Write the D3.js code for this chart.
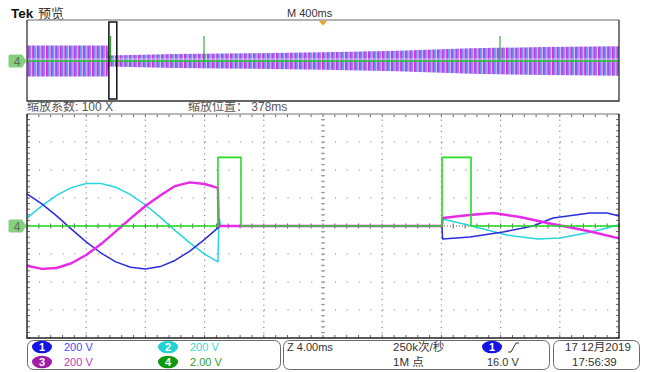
<!DOCTYPE html>
<html>
<head>
<meta charset="utf-8">
<script src="https://cdn.jsdelivr.net/npm/d3@7"></script>
<style>
  body { margin: 0; background: #fff; }
  svg { display: block; font-family: "Liberation Sans", "Noto Sans CJK SC", sans-serif; }
</style>
</head>
<body>
<div id="scope"></div>
<script>
// ---- channel data, main (zoomed) window: time in ms, values in volts
let ch1T = [0, 1, 2, 3, 4, 5, 6, 7, 8, 9, 10, 11, 12, 13, 13.1, 28.04, 28.08, 29.93, 32.16, 34.19, 35.54, 38.04, 39.19, 40];
let ch1V = [230, 158, 72, -22, -113, -193, -256, -295, -307, -290, -246, -179, -96, -4, 0, 0, -93, -79, -43, 0, 57, 93, 93, 71];

let ch2T = [0, 1, 2, 3, 4, 5, 6, 7, 8, 9, 10, 11, 12, 12.9, 12.97, 13.1, 28.04, 28.08, 29.5, 31.1, 32.4, 34.5, 36.0, 37.8, 39.2, 40];
let ch2V = [56, 144, 219, 274, 303, 304, 277, 224, 150, 63, -31, -121, -201, -256, 57, 0, 0, 50, 14, -29, -64, -93, -86, -50, -14, 10];

let ch3T = [0, 1, 2, 3, 4, 5, 6, 7, 8, 9, 10, 11, 12, 12.9, 12.95, 28.04, 28.08, 29.9, 31.5, 33.3, 35.5, 36.9, 38.2, 40];
let ch3V = [-284, -306, -300, -266, -207, -129, -39, 54, 143, 218, 285, 312, 300, 272, 0, 0, 57, 79, 93, 64, 14, -14, -43, -88];

let ch4T = [0, 12.9, 12.9, 14.46, 14.46, 28.04, 28.04, 30.0, 30.0, 40];
let ch4V = [0, 0, 4.9, 4.9, 0, 0, 4.9, 4.9, 0, 0];

// ---- overview (record) window: time in ms, envelope amplitude in volts
let ovT = [0, 545, 548, 1000, 1500, 2000, 2500, 3000, 3500, 4000];
let ovAmp = [310, 310, 110, 140, 155, 175, 205, 255, 280, 295];
let ovSpikeT = [565, 1196, 3196];
let ovSpikeV = [5, 5, 5];
let zoomStart = 560, zoomWidth = 40, triggerT = 2000;

// ---- labels
let chScales = ["200 V", "200 V", "200 V", "2.00 V"];
let chColors = ["#2b2be0", "#27d6dc", "#e829e8", "#22dd22"];
let chBadge = ["#1414e6", "#22d2d6", "#a01ea6", "#0e980e"];
let chLabelColor = ["#4a4af5", "#38d8dc", "#b83ab8", "#2ca02c"];

let dim = { width: 646, height: 372 };
let plot = { left: 27, right: 619, top: 114, bottom: 338 };
let ov = { top: 20, bottom: 101 };

let svg = d3.select("#scope").append("svg")
    .attr("width", dim.width)
    .attr("height", dim.height);

// striped fill for the compressed record view
let defs = svg.append("defs");
let pat = defs.append("pattern")
    .attr("id", "band")
    .attr("patternUnits", "userSpaceOnUse")
    .attr("width", 4.6).attr("height", 7);
pat.append("rect").attr("width", 4.6).attr("height", 7).attr("fill", "#f4ecff");
pat.append("rect").attr("x", 0).attr("width", 1.3).attr("height", 7).attr("fill", "#e02ae6");
pat.append("rect").attr("x", 1.3).attr("width", 1.1).attr("height", 7).attr("fill", "#3232e8");
pat.append("rect").attr("x", 2.4).attr("width", 0.7).attr("height", 7).attr("fill", "#30d8e8");
pat.append("rect").attr("x", 3.1).attr("width", 0.8).attr("height", 7).attr("fill", "#b040e0");

// ---- scales
let x = d3.scaleLinear().domain([0, 40]).range([plot.left, plot.right]);
let yDiv = d3.scaleLinear().domain([-4, 4]).range([plot.bottom, plot.top]);
let yV = d3.scaleLinear().domain([-800, 800]).range([plot.bottom, plot.top]);
let yG = d3.scaleLinear().domain([-8, 8]).range([plot.bottom, plot.top]);

let xOv = d3.scaleLinear().domain([0, 4000]).range([plot.left, plot.right]);
let yOv = d3.scaleLinear().domain([-800, 800]).range([ov.bottom, ov.top + 1]);
let yOvG = d3.scaleLinear().domain([-8, 8]).range([ov.bottom, ov.top + 1]);

// ---- header
svg.append("text").attr("x", 11).attr("y", 18)
    .style("font-weight", "bold").style("font-size", "13.5px").attr("fill", "#111")
    .text("Tek");
svg.append("text").attr("x", 38).attr("y", 18)
    .style("font-family", "Noto Sans CJK SC").style("font-size", "13px").attr("fill", "#333")
    .text("预览");
svg.append("text").attr("x", 287).attr("y", 17)
    .style("font-size", "11px").attr("fill", "#333")
    .text("M 400ms");

// ---- overview
let ovG = svg.append("g").attr("class", "overview");
let band = d3.area()
    .x((d, i) => xOv(ovT[i]))
    .y0(d => yOv(-d))
    .y1(d => yOv(d));
ovG.append("path").datum(ovAmp).attr("d", band).attr("fill", "url(#band)");
ovG.append("line")
    .attr("x1", xOv(0)).attr("x2", xOv(4000))
    .attr("y1", yOvG(0) - 2).attr("y2", yOvG(0) - 2)
    .attr("stroke", "#fff").attr("stroke-width", 1).attr("stroke-opacity", 0.6);
ovG.append("line")
    .attr("x1", xOv(0)).attr("x2", xOv(4000))
    .attr("y1", yOvG(0)).attr("y2", yOvG(0))
    .attr("stroke", "#22cc22").attr("stroke-width", 1.6);
ovG.selectAll("line.spike").data(ovSpikeT).enter().append("line")
    .attr("class", "spike")
    .attr("x1", d => xOv(d)).attr("x2", d => xOv(d))
    .attr("y1", yOvG(0)).attr("y2", (d, i) => yOvG(ovSpikeV[i]))
    .attr("stroke", "#1a9a1a").attr("stroke-width", 1);
ovG.append("path")
    .attr("d", `M${plot.left},${ov.top}H${plot.right}`)
    .attr("stroke", "#9a9a9a").attr("stroke-width", 1.6).attr("fill", "none");
ovG.append("path")
    .attr("d", `M${plot.left},${ov.top}V${ov.bottom}H${plot.right}V${ov.top}`)
    .attr("stroke", "#333").attr("stroke-width", 1.3).attr("fill", "none");
ovG.append("rect")
    .attr("x", xOv(zoomStart) - 1).attr("width", xOv(zoomStart + zoomWidth) - xOv(zoomStart) + 2)
    .attr("y", 22).attr("height", 77)
    .attr("fill", "none").attr("stroke", "#111").attr("stroke-width", 1.5);
ovG.append("path")
    .attr("d", `M${xOv(triggerT) - 4},${ov.top + 1}h8l-4,4.5z`)
    .attr("fill", "#f09a1e");

// ---- zoom info
svg.append("text").attr("x", 27).attr("y", 111)
    .style("font-size", "12px").attr("fill", "#555")
    .text("缩放系数: 100 X");
svg.append("text").attr("x", 188).attr("y", 111)
    .style("font-size", "12px").attr("fill", "#555")
    .text("缩放位置： 378ms");

// ---- grid
let gridG = svg.append("g");
let vLines = d3.range(1, 10).map(d => d * 4);
let hLines = d3.range(-3, 4).filter(d => d !== 0);
gridG.selectAll("line.v").data(vLines).enter().append("line")
    .attr("x1", d => x(d)).attr("x2", d => x(d))
    .attr("y1", plot.top).attr("y2", plot.bottom)
    .attr("stroke", "#8a8a8a").attr("stroke-width", 1.2)
    .attr("stroke-dasharray", "1.2 4.4");
gridG.selectAll("line.h").data(hLines).enter().append("line")
    .attr("x1", plot.left).attr("x2", plot.right)
    .attr("y1", d => yDiv(d)).attr("y2", d => yDiv(d))
    .attr("stroke", "#8a8a8a").attr("stroke-width", 1.2)
    .attr("stroke-dasharray", "1.2 10.64");
gridG.append("line")
    .attr("x1", plot.left).attr("x2", plot.right)
    .attr("y1", yDiv(0)).attr("y2", yDiv(0))
    .attr("stroke", "#555").attr("stroke-width", 1).attr("stroke-dasharray", "1 2");

let minorX = d3.range(0, 40.01, 0.8);
let minorY = d3.range(-4, 4.01, 0.2);
let tick = (sel, data, f) => sel.selectAll(null).data(data).enter().append("line")
    .attr("stroke", "#666").attr("stroke-width", 1).each(f);
tick(gridG, minorX, function (d) {
  d3.select(this).attr("x1", x(d)).attr("x2", x(d)).attr("y1", yDiv(0) - 2.5).attr("y2", yDiv(0) + 2.5);
});
tick(gridG, minorX, function (d) {
  d3.select(this).attr("x1", x(d)).attr("x2", x(d)).attr("y1", plot.top).attr("y2", plot.top + 3);
});
tick(gridG, minorX, function (d) {
  d3.select(this).attr("x1", x(d)).attr("x2", x(d)).attr("y1", plot.bottom - 3).attr("y2", plot.bottom);
});
tick(gridG, minorY, function (d) {
  d3.select(this).attr("x1", x(20) - 2).attr("x2", x(20) + 2).attr("y1", yDiv(d)).attr("y2", yDiv(d))
      .attr("stroke", "#999");
});
tick(gridG, minorY, function (d) {
  d3.select(this).attr("x1", plot.left).attr("x2", plot.left + 3).attr("y1", yDiv(d)).attr("y2", yDiv(d));
});
tick(gridG, minorY, function (d) {
  d3.select(this).attr("x1", plot.right - 3).attr("x2", plot.right).attr("y1", yDiv(d)).attr("y2", yDiv(d));
});

// ---- traces
let traceG = svg.append("g");
let line = (T, ys) => d3.line().x((d, i) => x(T[i])).y(d => ys(d));
let traces = [
  { T: ch2T, V: ch2V, s: yV, c: chColors[1], w: 1.5 },
  { T: ch1T, V: ch1V, s: yV, c: chColors[0], w: 1.5 },
  { T: ch3T, V: ch3V, s: yV, c: chColors[2], w: 2.4 },
  { T: ch4T, V: ch4V, s: yG, c: chColors[3], w: 1.6 }
];
traces.forEach(t => {
  traceG.append("path").datum(t.V)
      .attr("d", line(t.T, t.s))
      .attr("fill", "none").attr("stroke", t.c)
      .attr("stroke-width", t.w).attr("stroke-linejoin", "round");
});

// ---- frame
svg.append("path")
    .attr("d", `M${plot.left},${plot.top}H${plot.right}`)
    .attr("stroke", "#a0a0a0").attr("stroke-width", 1.5);
svg.append("path")
    .attr("d", `M${plot.left},${plot.top}V${plot.bottom}H${plot.right}V${plot.top}`)
    .attr("stroke", "#222").attr("stroke-width", 1.4).attr("fill", "none");

// ---- channel 4 ground markers
function marker(yc) {
  let g = svg.append("g");
  g.append("path")
      .attr("d", `M10,${yc - 6.5}h12l4.5,6.5l-4.5,6.5h-12q-1.5,0,-1.5,-1.5v-10q0,-1.5,1.5,-1.5z`)
      .attr("fill", "#84d07c");
  g.append("text").attr("x", 17).attr("y", yc + 4.5)
      .attr("text-anchor", "middle").style("font-size", "12px").attr("fill", "#5d6e5c")
      .text("4");
}
marker(yOvG(0));
marker(yG(0));

// ---- status bar
let bar = svg.append("g");
bar.append("rect").attr("x", 27.5).attr("y", 340.5).attr("width", 253).attr("height", 29)
    .attr("rx", 6).attr("fill", "none").attr("stroke", "#6a6a6a");
bar.append("rect").attr("x", 283.5).attr("y", 340.5).attr("width", 266).attr("height", 29)
    .attr("rx", 6).attr("fill", "none").attr("stroke", "#6a6a6a");
bar.append("rect").attr("x", 553.5).attr("y", 340.5).attr("width", 86).attr("height", 29)
    .attr("rx", 6).attr("fill", "none").attr("stroke", "#6a6a6a");

function badge(cx, cy, fill, label) {
  bar.append("ellipse").attr("cx", cx).attr("cy", cy).attr("rx", 10).attr("ry", 6.3).attr("fill", fill);
  bar.append("text").attr("x", cx).attr("y", cy + 4).attr("text-anchor", "middle")
      .style("font-size", "11px").style("font-weight", "bold").attr("fill", "#fff").text(label);
}
let rows = [347, 362];
let cols = [42, 168];
let slots = [[0, 0], [1, 0], [0, 1], [1, 1]];
chScales.forEach((s, i) => {
  let pos = slots[i];
  badge(cols[pos[0]], rows[pos[1]], chBadge[i], String(i + 1));
  bar.append("text").attr("x", cols[pos[0]] + 22).attr("y", rows[pos[1]] + 4)
      .style("font-size", "11px").attr("fill", chLabelColor[i]).text(s);
});

bar.append("text").attr("x", 287).attr("y", 351).style("font-size", "11px").attr("fill", "#333").text("Z 4.00ms");
bar.append("text").attr("x", 393).attr("y", 351).style("font-size", "11.5px").attr("fill", "#333").text("250k次/秒");
bar.append("text").attr("x", 393).attr("y", 366).style("font-size", "11.5px").attr("fill", "#333").text("1M 点");
badge(492, 347, chBadge[0], "1");
bar.append("path").attr("d", "M508,352h3l5,-9h3").attr("fill", "none").attr("stroke", "#333").attr("stroke-width", 1);
bar.append("text").attr("x", 487).attr("y", 366).style("font-size", "11px").attr("fill", "#333").text("16.0 V");
bar.append("text").attr("x", 565).attr("y", 351).style("font-size", "11.5px").attr("fill", "#333").text("17 12月2019");
bar.append("text").attr("x", 572).attr("y", 366).style("font-size", "11.5px").attr("fill", "#333").text("17:56:39");
</script>
</body>
</html>
